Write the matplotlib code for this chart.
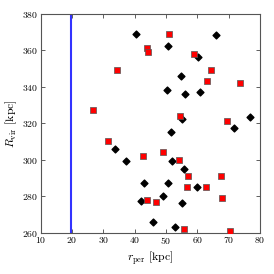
import matplotlib
matplotlib.use('Agg')
import matplotlib.pyplot as plt

plt.rcParams['font.family'] = 'serif'
plt.rcParams['font.serif'] = ['cmr10', 'DejaVu Serif']
plt.rcParams['mathtext.fontset'] = 'cm'
plt.rcParams['axes.formatter.use_mathtext'] = True

# pericentre distance r_per [kpc] and virial radius R_vir [kpc]
black_rper = [40.3, 50.6, 54.7, 65.9, 60.3, 50.4, 55.9, 60.9, 55.1, 76.9, 71.6, 51.6,
              33.8, 37.1, 52.0, 55.6, 43.0, 50.5, 59.9, 42.0, 49.1, 55.0, 45.7, 53.0]
black_rvir = [369.0, 362.3, 346.1, 368.3, 356.2, 338.3, 336.1, 337.2, 322.2, 323.2, 317.2, 315.1,
              306.1, 299.2, 299.1, 294.9, 287.0, 287.0, 285.0, 277.1, 280.0, 276.1, 266.0, 263.1]

red_rper = [26.8, 34.2, 51.0, 43.8, 44.2, 58.8, 64.3, 63.1, 73.7, 54.5, 69.4, 31.4,
            42.5, 48.9, 54.0, 57.0, 56.7, 62.8, 67.6, 43.8, 46.8, 67.9, 55.7, 70.4]
red_rvir = [327.1, 349.2, 369.2, 361.2, 359.1, 358.3, 349.2, 343.2, 342.1, 324.1, 321.1, 310.1,
            302.1, 304.0, 300.0, 291.1, 285.0, 285.0, 291.1, 278.1, 277.0, 279.0, 262.0, 261.0]

rper_limit = 19.8

fig = plt.figure(figsize=(2.74, 2.74), dpi=100)
ax = fig.add_axes([0.1485, 0.151, 0.8005, 0.798])

ax.axvline(rper_limit, color='#3333ff', lw=1.5, zorder=1)
ax.scatter(black_rper, black_rvir, marker='D', s=12, color='black', zorder=3)
ax.scatter(red_rper, red_rvir, marker='s', s=14, color='red', edgecolors='#555555',
           linewidths=0.5, zorder=3)

ax.set_xlim(10, 80)
ax.set_ylim(260, 380)
ax.set_xticks(range(10, 81, 10))
ax.set_yticks(range(260, 381, 20))
ax.tick_params(direction='in', top=True, right=True, labelsize=7, length=3,
               width=0.6, color='#444444', pad=2)
for s in ax.spines.values():
    s.set_color('#555555')
    s.set_linewidth(0.8)

ax.set_xlabel(r'$r_{\rm per}$ [kpc]', fontsize=8.5, labelpad=2)
ax.set_ylabel(r'$R_{\rm vir}$ [kpc]', fontsize=8.5, labelpad=2)

fig.savefig('out.png', dpi=100)
